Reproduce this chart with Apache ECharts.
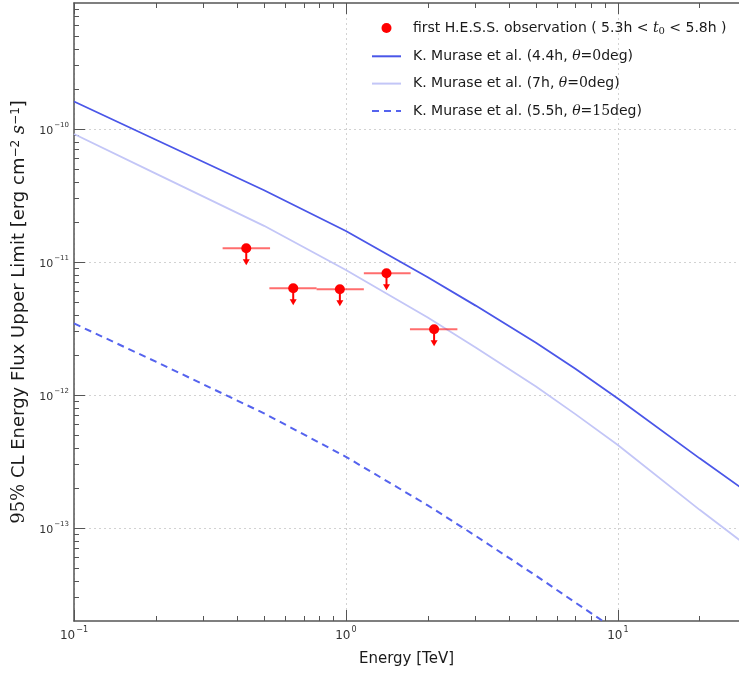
<!DOCTYPE html>
<html><head><meta charset="utf-8">
<script src="https://cdn.jsdelivr.net/npm/echarts/dist/echarts.min.js"></script>
<style>html,body{margin:0;padding:0;background:#fff}#c{width:739px;height:679px}</style>
</head><body><div id="c"></div><script>
// ---- data ----
const modelEnergy = [0.1, 0.2, 0.5, 1, 2, 3, 5, 7, 10, 20, 28];
const murase44h = [1.61e-10, 8.29e-11, 3.46e-11, 1.71e-11, 7.67e-12, 4.70e-12, 2.47e-12, 1.57e-12, 9.42e-13, 3.34e-13, 2.05e-13];
const murase7h = [9.17e-11, 4.62e-11, 1.87e-11, 8.71e-12, 3.82e-12, 2.28e-12, 1.16e-12, 7.15e-13, 4.21e-13, 1.37e-13, 8.13e-14];
const dashedEnergy = [0.1, 0.2, 0.5, 1, 2, 3, 5, 7, 10];
const murase55h = [3.45e-12, 1.78e-12, 7.28e-13, 3.43e-13, 1.48e-13, 8.73e-14, 4.38e-14, 2.74e-14, 1.68e-14];
const hessEnergy = [0.43, 0.64, 0.95, 1.41, 2.11];
const hessEnergyLow = [0.352, 0.523, 0.78, 1.164, 1.72];
const hessEnergyHigh = [0.526, 0.78, 1.164, 1.73, 2.57];
const hessUpperLimit = [1.27e-11, 6.34e-12, 6.23e-12, 8.22e-12, 3.12e-12];
const xRange = [0.1, 27.9];
const yRange = [2.0e-14, 8.85e-10];
const xDecades = [-1, 0, 1];
const yDecades = [-13, -12, -11, -10];
const seriesNames = [
  'first H.E.S.S. observation ( 5.3h < t0 < 5.8h )',
  'K. Murase et al. (4.4h, θ=0deg)',
  'K. Murase et al. (7h, θ=0deg)',
  'K. Murase et al. (5.5h, θ=15deg)'
];
const legendRich = [
  'first H.E.S.S. observation ( 5.3h < {mi|t}{sub|0} < 5.8h )',
  'K. Murase et al. (4.4h, {mi|θ}{m|=0}deg)',
  'K. Murase et al. (7h, {mi|θ}{m|=0}deg)',
  'K. Murase et al. (5.5h, {mi|θ}{m|=15}deg)'
];

// ---- helpers ----
const L = Math.log10;
function minorTicks(lo, hi) {
  const out = [];
  for (let n = Math.floor(lo) - 1; n <= Math.ceil(hi); n++) {
    for (let k = 2; k <= 9; k++) {
      const v = n + L(k);
      if (v > lo && v < hi) out.push(v);
    }
  }
  return out;
}
const xMin = L(xRange[0]), xMax = L(xRange[1]);
const yMin = L(yRange[0]), yMax = L(yRange[1]);
const xMinor = minorTicks(xMin, xMax);
const yMinor = minorTicks(yMin, yMax);
const axisColor = '#555';
const sup = v => '{b|10}{s|' + String(v).replace('-', '−') + '}';

function majorAxis(min, max, pos, decades, withLabel, fs, extra) {
  return Object.assign({
    type: 'value', min: min, max: max, position: pos,
    axisLine: { show: true, onZero: false, lineStyle: { color: axisColor, width: 1.5 } },
    axisTick: { show: true, inside: true, length: 11, customValues: decades, lineStyle: { color: axisColor, width: 1 } },
    axisLabel: withLabel ? {
      show: true, customValues: decades, formatter: sup, margin: 5,
      rich: {
        b: { fontFamily: 'DejaVu Sans', fontSize: fs, color: '#333', lineHeight: fs + 4, verticalAlign: 'bottom' },
        s: { fontFamily: 'DejaVu Sans', fontSize: fs - 4, color: '#333', lineHeight: fs + 4, verticalAlign: 'top', padding: [0, 0, 0, 1] }
      }
    } : { show: false },
    splitLine: { show: withLabel, lineStyle: { color: '#d2d2d2', type: [2, 3], width: 1 } }
  }, extra || {});
}
function minorAxis(min, max, pos, vals) {
  return {
    type: 'value', min: min, max: max, position: pos,
    axisLine: { show: false, onZero: false },
    axisTick: { show: true, inside: true, length: 5, customValues: vals, lineStyle: { color: axisColor, width: 1 } },
    axisLabel: { show: false }, splitLine: { show: false }
  };
}

const chart = echarts.init(document.getElementById('c'), null, { renderer: 'canvas' });
chart.setOption({
  animation: false,
  backgroundColor: '#fff',
  grid: { left: 74, right: 0, top: 3, bottom: 58, containLabel: false },
  legend: {
    orient: 'vertical', left: 371, top: 21, padding: 0,
    itemWidth: 29, itemHeight: 10, itemGap: 13.3,
    data: [
      { name: seriesNames[0], icon: 'circle' },
      { name: seriesNames[1], itemStyle: { opacity: 0 } },
      { name: seriesNames[2], itemStyle: { opacity: 0 } },
      { name: seriesNames[3], itemStyle: { opacity: 0 } }
    ],
    formatter: name => legendRich[seriesNames.indexOf(name)],
    textStyle: {
      fontFamily: 'DejaVu Sans', fontSize: 14, color: '#1a1a1a', padding: [0, 0, 0, 7],
      rich: {
        mi: { fontFamily: 'DejaVu Serif', fontStyle: 'italic', fontSize: 14, color: '#1a1a1a' },
        m: { fontFamily: 'DejaVu Serif', fontSize: 14, color: '#1a1a1a' },
        sub: { fontFamily: 'DejaVu Serif', fontSize: 10, color: '#1a1a1a', verticalAlign: 'bottom', padding: [6, 0, 0, 0] }
      }
    }
  },
  xAxis: [
    majorAxis(xMin, xMax, 'bottom', xDecades, true, 12, {
      name: 'Energy [TeV]', nameLocation: 'middle', nameGap: 31,
      nameTextStyle: { fontFamily: 'DejaVu Sans', fontSize: 15, color: '#1a1a1a' }
    }),
    minorAxis(xMin, xMax, 'bottom', xMinor),
    majorAxis(xMin, xMax, 'top', xDecades, false, 12),
    minorAxis(xMin, xMax, 'top', xMinor)
  ],
  yAxis: [
    majorAxis(yMin, yMax, 'left', yDecades, true, 11, {
      name: '{m|95%} CL Energy Flux Upper Limit [erg cm{sp|−2} {mi|s}{sp|−1}]',
      nameLocation: 'middle', nameGap: 40,
      nameTextStyle: {
        fontFamily: 'DejaVu Sans', fontSize: 18, color: '#1a1a1a',
        rich: {
          m: { fontFamily: 'DejaVu Serif', fontSize: 18, color: '#1a1a1a' },
          mi: { fontFamily: 'DejaVu Serif', fontStyle: 'italic', fontSize: 18, color: '#1a1a1a' },
          sp: { fontFamily: 'DejaVu Sans', fontSize: 12, color: '#1a1a1a', verticalAlign: 'top' }
        }
      }
    }),
    minorAxis(yMin, yMax, 'left', yMinor)
  ],
  series: [
    {
      name: seriesNames[1], type: 'line', xAxisIndex: 0, yAxisIndex: 0,
      data: modelEnergy.map((e, i) => [L(e), L(murase44h[i])]),
      symbol: 'none',
      lineStyle: { color: '#4a56e8', width: 1.8 }, itemStyle: { color: '#4a56e8' }, z: 3
    },
    {
      name: seriesNames[2], type: 'line', xAxisIndex: 0, yAxisIndex: 0,
      data: modelEnergy.map((e, i) => [L(e), L(murase7h[i])]),
      symbol: 'none',
      lineStyle: { color: '#c3c6f7', width: 1.8 }, itemStyle: { color: '#c3c6f7' }, z: 3
    },
    {
      name: seriesNames[3], type: 'line', xAxisIndex: 0, yAxisIndex: 0,
      data: dashedEnergy.map((e, i) => [L(e), L(murase55h[i])]),
      symbol: 'none',
      lineStyle: { color: '#5563ee', width: 2, type: [7, 5] }, itemStyle: { color: '#5563ee' }, z: 3
    },
    {
      type: 'custom', xAxisIndex: 0, yAxisIndex: 0, z: 4,
      data: hessEnergy.map((e, i) => [L(e), L(hessEnergyLow[i]), L(hessEnergyHigh[i]), L(hessUpperLimit[i])]),
      encode: { x: [0, 1, 2], y: 3 },
      renderItem: function (params, api) {
        const c = api.coord([api.value(0), api.value(3)]);
        const lo = api.coord([api.value(1), api.value(3)]);
        const hi = api.coord([api.value(2), api.value(3)]);
        return {
          type: 'group', children: [
            { type: 'line', shape: { x1: lo[0], y1: lo[1], x2: hi[0], y2: hi[1] }, style: { stroke: 'rgba(255,30,30,0.65)', lineWidth: 2 } },
            { type: 'line', shape: { x1: c[0], y1: c[1], x2: c[0], y2: c[1] + 12 }, style: { stroke: '#ff0000', lineWidth: 2 } },
            { type: 'polygon', shape: { points: [[c[0] - 3.5, c[1] + 11], [c[0] + 3.5, c[1] + 11], [c[0], c[1] + 17]] }, style: { fill: '#ff0000' } }
          ]
        };
      }
    },
    {
      name: seriesNames[0], type: 'scatter', xAxisIndex: 0, yAxisIndex: 0, z: 5,
      data: hessEnergy.map((e, i) => [L(e), L(hessUpperLimit[i])]),
      symbol: 'circle', symbolSize: 10, itemStyle: { color: '#ff0000', opacity: 1 }
    }
  ]
});
</script></body></html>
